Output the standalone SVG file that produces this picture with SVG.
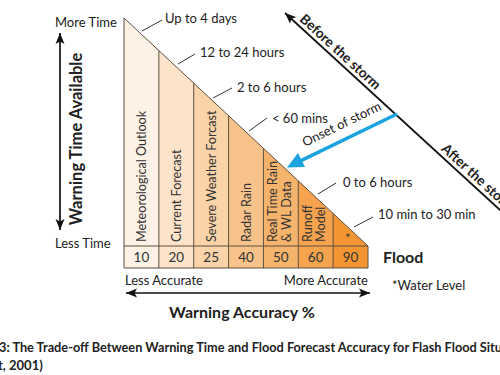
<svg xmlns="http://www.w3.org/2000/svg" width="500" height="375" viewBox="0 0 500 375">
<style>
.t{font-family:Lato,"Open Sans","Liberation Sans",sans-serif;fill:#222}
.f13{font-size:13px}
.f12{font-size:12px}
.b{font-weight:bold}
.col{font-family:Lato,"Open Sans","Liberation Sans",sans-serif;font-size:12.6px;fill:#333}
.num{font-family:Lato,"Open Sans","Liberation Sans",sans-serif;font-size:13.5px;fill:#333;text-anchor:middle}
.edge{stroke:#5d4e40;stroke-width:1;fill:none}
.lead{stroke:#333;stroke-width:1}
.arr{stroke:#111;stroke-width:1.7;fill:none}
</style>
<defs>
<marker id="ah" markerUnits="userSpaceOnUse" markerWidth="12" markerHeight="10" refX="11" refY="5" orient="auto-start-reverse">
<path d="M0,0.5 L11,5 L0,9.5 L2.5,5 Z" fill="#111"/>
</marker>
</defs>

<g id="chart">
<polygon points="124,18 158.86,50.57 158.86,246 124,246" fill="#fdf2e5"/>
<polygon points="158.86,50.57 193.71,83.14 193.71,246 158.86,246" fill="#fce3c9"/>
<polygon points="193.71,83.14 228.57,115.71 228.57,246 193.71,246" fill="#fad3a8"/>
<polygon points="228.57,115.71 263.43,148.29 263.43,246 228.57,246" fill="#f8c38a"/>
<polygon points="263.43,148.29 298.29,180.86 298.29,246 263.43,246" fill="#f6b36c"/>
<polygon points="298.29,180.86 333.14,213.43 333.14,246 298.29,246" fill="#f5a34f"/>
<polygon points="333.14,213.43 368,246 333.14,246" fill="#f39532"/>
<rect x="124" y="246" width="34.86" height="22" fill="#fdf2e5"/>
<rect x="158.86" y="246" width="34.86" height="22" fill="#fce3c9"/>
<rect x="193.71" y="246" width="34.86" height="22" fill="#fad3a8"/>
<rect x="228.57" y="246" width="34.86" height="22" fill="#f8c38a"/>
<rect x="263.43" y="246" width="34.86" height="22" fill="#f6b36c"/>
<rect x="298.29" y="246" width="34.86" height="22" fill="#f5a34f"/>
<rect x="333.14" y="246" width="34.86" height="22" fill="#f39532"/>
<path class="edge" d="M124,18 L368,246 L368,268 L124,268 Z M124,246 H368 M158.86,50.57 V268 M193.71,83.14 V268 M228.57,115.71 V268 M263.43,148.29 V268 M298.29,180.86 V268 M333.14,213.43 V268"/>
</g>

<g id="labels-columns">
<text class="col" transform="translate(146,242) rotate(-90)">Meteorological Outlook</text>
<text class="col" transform="translate(181,242) rotate(-90)">Current Forecast</text>
<text class="col" transform="translate(215.5,242) rotate(-90)">Severe Weather Forcast</text>
<text class="col" transform="translate(250.5,242) rotate(-90)">Radar Rain</text>
<text class="col" transform="translate(277,242) rotate(-90)">Real Time Rain</text>
<text class="col" transform="translate(291,242) rotate(-90)">&amp; WL Data</text>
<text class="col" transform="translate(311.5,242) rotate(-90)">Runoff</text>
<text class="col" transform="translate(324.5,242) rotate(-90)">Model</text>
<text class="col" x="348" y="243" text-anchor="middle">*</text>
</g>

<g id="row-values">
<text class="num" x="141.43" y="262">10</text>
<text class="num" x="176.29" y="262">20</text>
<text class="num" x="211.14" y="262">25</text>
<text class="num" x="246" y="262">40</text>
<text class="num" x="280.86" y="262">50</text>
<text class="num" x="315.71" y="262">60</text>
<text class="num" x="350.57" y="262">90</text>
</g>

<g id="time-labels">
<text class="t f13" x="165" y="23">Up to 4 days</text>
<text class="t f13" x="200" y="57">12 to 24 hours</text>
<text class="t f13" x="237" y="92">2 to 6 hours</text>
<text class="t f13" x="272" y="123">&lt; 60 mins</text>
<text class="t f13" x="343" y="187">0 to 6 hours</text>
<text class="t f13" x="378" y="219">10 min to 30 min</text>
</g>

<g id="connectors">
<line class="lead" x1="142" y1="31" x2="162" y2="20"/>
<line class="lead" x1="178" y1="64" x2="195" y2="54"/>
<line class="lead" x1="213" y1="98" x2="232" y2="88"/>
<line class="lead" x1="249" y1="131" x2="267" y2="118"/>
<line class="lead" x1="318" y1="194" x2="336" y2="183"/>
<line class="lead" x1="354" y1="227" x2="373" y2="217"/>
<line class="arr" x1="60" y1="33" x2="60" y2="230" marker-start="url(#ah)" marker-end="url(#ah)"/>
<line class="arr" x1="126" y1="293" x2="370" y2="293" marker-start="url(#ah)" marker-end="url(#ah)"/>
<line class="arr" x1="285" y1="13" x2="512" y2="221" marker-start="url(#ah)"/>
<line x1="397" y1="114" x2="300" y2="161.1" stroke="#1ba3e0" stroke-width="3.5"/>
<polygon points="287,167.5 305,167 298,153" fill="#1ba3e0"/>
</g>

<g id="axis-labels">
<text class="t f13" x="55" y="27">More Time</text>
<text class="t f13" x="55" y="248">Less Time</text>
<text class="t b" font-size="16.5" transform="translate(82,139) rotate(-90)" text-anchor="middle">Warning Time Available</text>
<text class="t f13" x="125" y="285">Less Accurate</text>
<text class="t f13" x="368" y="285" text-anchor="end">More Accurate</text>
<text class="t b" font-size="16" x="242" y="318" text-anchor="middle">Warning Accuracy %</text>
<text class="t b" font-size="16" x="383" y="263">Flood</text>
<text class="t f13" x="392" y="290">*Water Level</text>
<text class="t b" font-size="13.8" transform="translate(285,13) rotate(42.45)" x="15" y="-4">Before the storm</text>
<text class="t b" font-size="13.8" transform="translate(285,13) rotate(42.45)" x="207" y="-4">After the storm</text>
<text class="t f13" font-size="13.5" transform="translate(305,147) rotate(-26.1)">Onset of storm</text>
</g>

<g id="caption">
<text class="t b f13" x="-1" y="352" textLength="503" lengthAdjust="spacingAndGlyphs">3: The Trade-off Between Warning Time and Flood Forecast Accuracy for Flash Flood Situ</text>
<text class="t b f13" x="-2" y="370">t, 2001)</text>
</g>
</svg>
